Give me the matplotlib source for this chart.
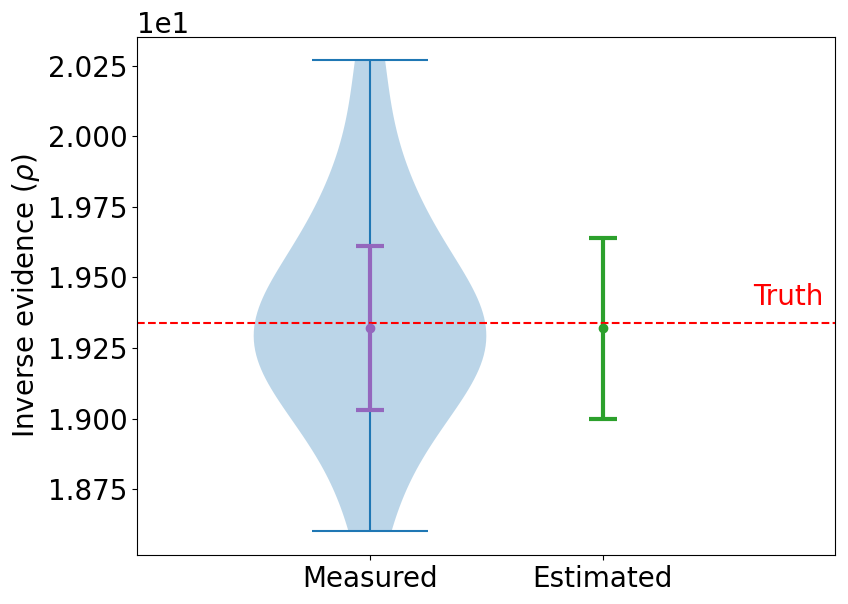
import numpy as np
import matplotlib
matplotlib.use("Agg")
import matplotlib.pyplot as plt

measured = [18.60, 18.85, 18.95, 19.03, 19.10, 19.15, 19.20, 19.24, 19.27, 19.30,
            19.33, 19.36, 19.40, 19.45, 19.52, 19.60, 19.68, 19.78, 19.95, 20.27]
measured_mean = 19.32
measured_err = 0.29
estimated_mean = 19.32
estimated_err = 0.32
truth = 19.34
labels = ["Measured", "Estimated"]

plt.rcParams['font.size'] = 20
fig, ax = plt.subplots(figsize=(8.48, 6.04), dpi=100)

ax.violinplot([measured], positions=[1], widths=1.0)
ax.errorbar([1], [measured_mean], yerr=[measured_err], fmt='o', color='tab:purple',
            capsize=10, elinewidth=3, capthick=3)
ax.errorbar([2], [estimated_mean], yerr=[estimated_err], fmt='o', color='tab:green',
            capsize=10, elinewidth=3, capthick=3)
ax.axhline(truth, color='red', linestyle='--')
ax.text(2.95, truth + 0.04, "Truth", color='red', ha='right', va='bottom')

ax.set_xlim(0, 3)
ax.set_ylim(18.516, 20.353)
ax.set_xticks([1, 2])
ax.set_xticklabels(labels)
ax.ticklabel_format(axis='y', style='sci', scilimits=(1, 1), useOffset=False)
ax.set_ylabel(r"Inverse evidence ($\rho$)")

plt.subplots_adjust(left=0.162, right=0.985, top=0.939, bottom=0.081)
plt.savefig("out.png")
